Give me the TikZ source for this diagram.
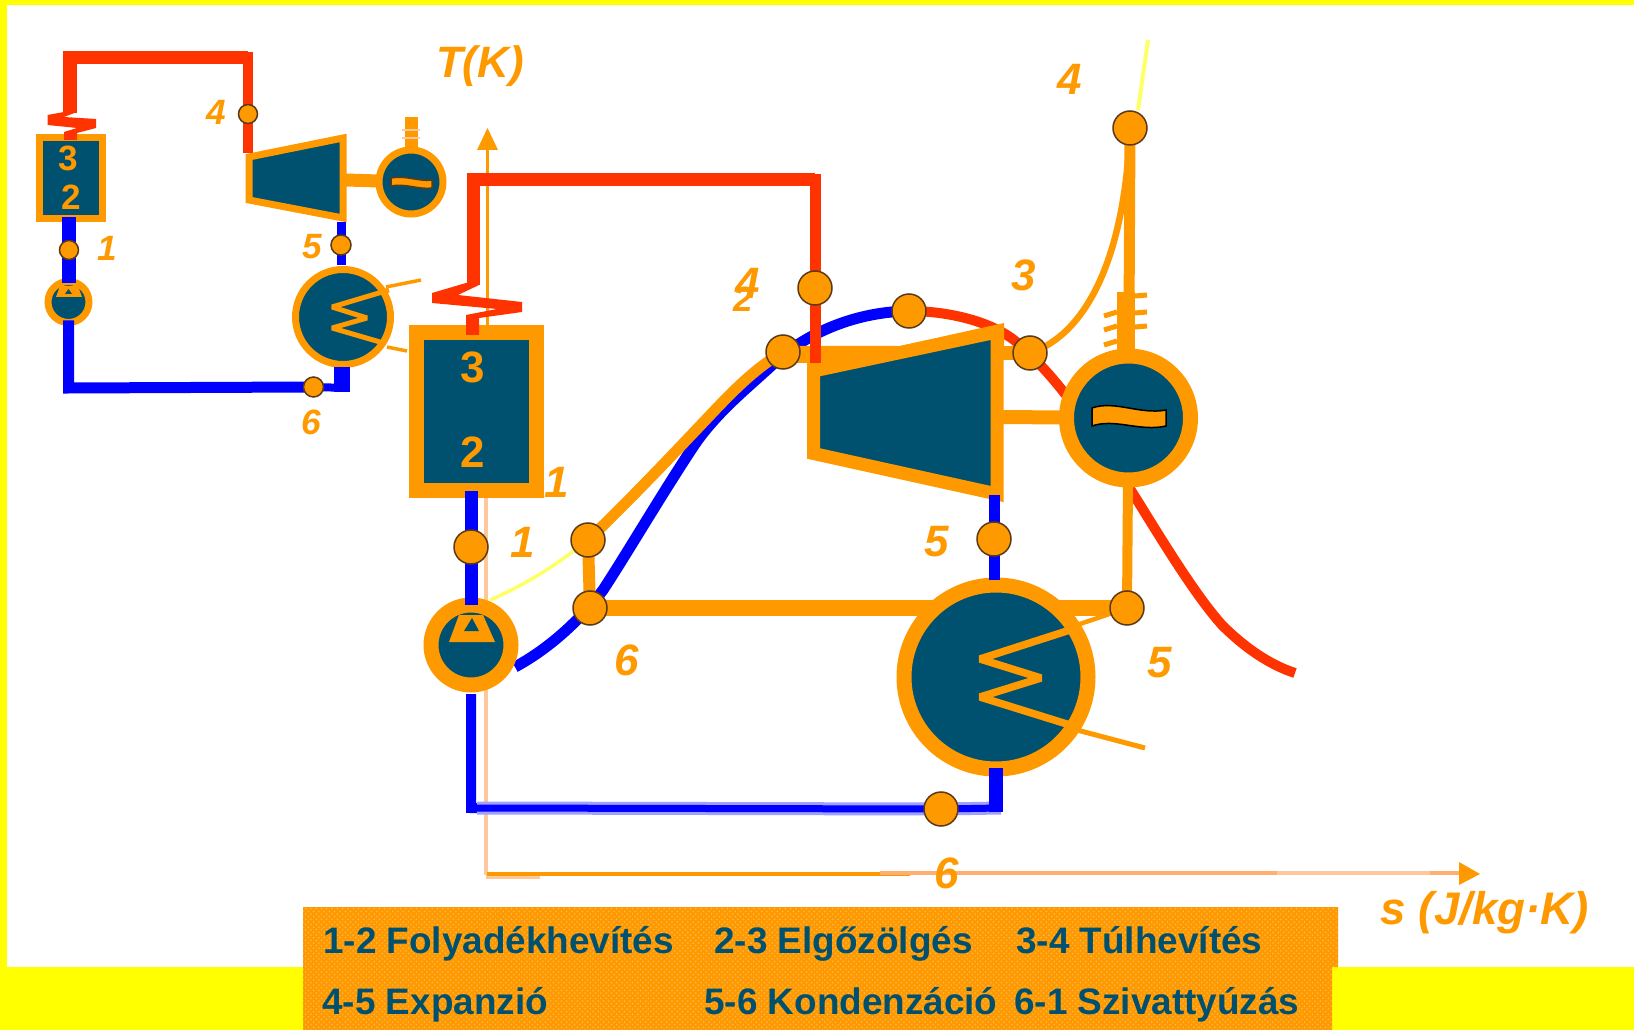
\documentclass[tikz,border=0pt]{standalone}
\usepackage{fontspec}
\setmainfont{Liberation Sans}
\usetikzlibrary{arrows.meta,patterns}
\definecolor{org}{HTML}{FF9900}
\definecolor{teal0}{HTML}{00506F}
\definecolor{hot}{HTML}{FF3300}
\definecolor{cold}{HTML}{0000FF}
\definecolor{paleblue}{HTML}{A0A0FF}
\definecolor{paleorg}{HTML}{FFC89A}
\definecolor{midorg}{HTML}{FFB070}
\definecolor{lemon}{HTML}{FFFF66}
\definecolor{yel}{HTML}{FFFF00}
\definecolor{boxdot}{HTML}{FFB84D}
\definecolor{rim}{HTML}{5A3A1A}
\pgfdeclarelayer{back}
\pgfdeclarelayer{pipes}
\pgfdeclarelayer{front}
\pgfsetlayers{back,main,pipes,front}
\tikzset{
  pw/.style={line width=#1*0.02cm},
  unit/.style={draw=org,fill=teal0,inner sep=0pt,outer sep=0pt},
  circ/.style={unit,circle,minimum size=#1*0.02cm},
  dot/.style={circle,draw=rim,fill=org,inner sep=0pt,outer sep=0pt,minimum size=#1*0.02cm,pw=1.5},
  num/.style={font=\fontsize{#1}{#1}\selectfont\bfseries\itshape,text=org,inner sep=0pt},
  tag/.style={font=\fontsize{#1}{#1}\selectfont\bfseries,text=org,inner sep=0pt},
  legend/.style={font=\fontsize{21}{21}\selectfont\bfseries,text=teal0,inner sep=0pt,anchor=base west},
  hotp/.style={draw=hot,line join=miter},
  coldp/.style={draw=cold,line join=miter},
  boxfill/.style={fill=org,postaction={pattern=crosshatch dots,pattern color=boxdot}},
}
\begin{document}
\begin{tikzpicture}[x=0.02cm,y=-0.02cm]
\useasboundingbox (0,0) rectangle (1634,1030);
% ---- page
\begin{pgfonlayer}{back}
\fill[white] (0,0) rectangle (1634,1030);
\fill[yel] (0,0) rectangle (1634,5.5);
\fill[yel] (0,0) rectangle (7,1030);
\fill[yel] (0,967) rectangle (1634,1030);
\end{pgfonlayer}
% ---- equipment nodes, large system
\node[unit,pw=15,minimum width=120*0.02cm,minimum height=157.5*0.02cm] (boiler) at (476,411.7) {};
\node[circ=80,pw=15] (pump) at (471,645) {};
\node[circ=124,pw=15] (gen) at (1128.5,418) {};
\node[circ=184,pw=15] (cond) at (996,677) {};
% ---- equipment nodes, small system
\node[unit,pw=7,minimum width=63*0.02cm,minimum height=81.5*0.02cm] (sboiler) at (71,178.2) {};
\node[circ=41,pw=7] (spump) at (68.5,302) {};
\node[circ=64,pw=7] (sgen) at (411,182) {};
\node[circ=95,pw=7] (scond) at (343,317) {};
% ---- state points
\begin{pgfonlayer}{front}
\node[dot=34] (p1) at (471,547) {};
\node[dot=34] (p1b) at (588,540) {};
\node[dot=34] (p6) at (590,608) {};
\node[dot=34] (p2) at (783,352) {};
\node[dot=34] (p4) at (815,288) {};
\node[dot=34] (ptop) at (909,311) {};
\node[dot=34] (p3) at (1030,353) {};
\node[dot=34] (p4b) at (1130,128) {};
\node[dot=34] (p5) at (994,539) {};
\node[dot=34] (p5b) at (1127,608) {};
\node[dot=34] (p6b) at (941,809) {};
\node[dot=19] (s1) at (69,250) {};
\node[dot=19] (s4) at (248,114) {};
\node[dot=20] (s5) at (341,245) {};
\node[dot=20] (s6) at (313.5,387) {};
\end{pgfonlayer}
\coordinate (axtop) at (487.5,128);
\coordinate (axend) at (1480,874);
\coordinate (turbin) at (815,363);
\coordinate (sturbin) at (248,153);
% ---- axes and T-s curves behind everything
\begin{pgfonlayer}{back}
\draw[org,pw=3] (487.5,150) -- (487.5,335);
\fill[org] (axtop) -- (498,150) -- (477,150) -- cycle;
\draw[paleorg,pw=4] (486,490) -- (486,875);
\draw[paleorg,pw=4] (486,877) -- (540,877);
\draw[org,pw=4] (487,874) -- (910,874);
\draw[midorg,pw=4] (880,873) -- (1277,873);
\draw[paleorg,pw=4] (1277,873) -- (1430,873);
\draw[midorg,pw=4] (1430,873) -- (1462,873);
\fill[org] (axend) -- (1459,862) -- (1459,885) -- cycle;
\draw[lemon,pw=3.5] (490,600) .. controls (520,587) and (550,570) .. (p1b.center);
\draw[lemon,pw=4] (1138,110) -- (1148,40);
\draw[cold,pw=11] (515,667) .. controls (550,648) and (580,620) .. (603,590) .. controls (626,555) and (660,497) .. (693,447) .. controls (715,414) and (745,390) .. (770,367) .. controls (800,337) and (850,312) .. (ptop.center);
\draw[hot,pw=10] (ptop.center) .. controls (940,311) and (985,318) .. (1014,340) .. controls (1035,358) and (1050,375) .. (1062,390) .. controls (1090,425) and (1115,465) .. (1137,500) .. controls (1160,537) and (1195,595) .. (1222,625) .. controls (1245,648) and (1270,665) .. (1295,673);
\draw[org,pw=11] (p1b.center) .. controls (630,500) and (680,447) .. (715,410) .. controls (735,389) and (757,367) .. (p2.center);
\draw[org,pw=12] (p1b.center) -- (p6.center);
\draw[org,pw=16] (p6.center) -- (p5b.center);
\draw[org,pw=10] (p5b.center) -- (gen.center);
\draw[org,pw=11] (p4b.center) -- (gen.center);
\draw[org,pw=6.5] (p3.center) .. controls (1085,335) and (1125,260) .. (p4b.center);
\draw[org,pw=14] (1000,353) -- (p3.center);
\draw[org,pw=14] (1000,417) -- (gen.center);
% generator stem ticks
\fill[org] (1117,292) rectangle (1135,350);
\draw[org,pw=5] (1135,296) -- (1147,295) (1135,313) -- (1147,312) (1135,327) -- (1147,326);
\draw[org,pw=5] (1104,316) -- (1117,312) (1104,330) -- (1117,326) (1104,345) -- (1117,341);
% condenser water connection, small and large
\draw[org,pw=4.5] (1077,625) -- (p5b.center);
\draw[org,pw=5] (1077,730) -- (1145,748);
\draw[org,pw=3.5] (386,287) -- (421,280);
\draw[org,pw=3.5] (387,347) -- (407,351);
% small generator stem
\draw[org,pw=13] (411,117) -- (sgen.center);
\draw[org,pw=13] (346,180) -- (sgen.center);
\draw[paleorg,pw=2] (402,130) -- (420,130) (402,138) -- (420,138);
\end{pgfonlayer}
% ---- turbines
\fill[org] (795,346) -- (900,346) -- (1004,323) -- (1004,360) -- (820,380) -- (807,380) -- (807,363) -- (795,363) -- cycle;
\draw[unit,pw=13,line join=miter] (813.5,371) -- (997,332) -- (997,494) -- (813.5,453.5) -- cycle;
\draw[unit,pw=7,line join=miter] (249,157) -- (343,138) -- (343,218) -- (249,200) -- cycle;
% ---- heater coils
\draw[org,pw=7.5,line join=bevel] (1070,630) -- (980,659) -- (1041,678) -- (980,697) -- (1070,725);
\draw[org,pw=5,line join=bevel] (389,290) -- (332,307) -- (367,318) -- (332,328) -- (380,342);
% ---- pump triangles
\fill[org] (459,615) -- (483,615) -- (495,642) -- (449,642) -- cycle;
\fill[teal0] (472,618) -- (464,631) -- (479,631) -- cycle;
\fill[org] (60,286) -- (78,286) -- (82,297) -- (56,297) -- cycle;
\fill[teal0] (68.5,289) -- (65,294) -- (72,294) -- cycle;
% ---- generator tildes
\draw[black,fill=org,pw=1.5] (1092,408) .. controls (1115,400) and (1140,415) .. (1166,410) -- (1166,426) .. controls (1140,432) and (1115,418) .. (1092,426) -- cycle;
\draw[rim,fill=org,pw=1.5] (391,178) .. controls (405,175) and (420,182) .. (432,180) -- (432,188) .. controls (420,190) and (405,183) .. (391,186) -- cycle;
% ---- working-fluid pipes
\begin{pgfonlayer}{pipes}
\draw[hotp,pw=13] (473,285) -- (473,180) -- (815,180);
\draw[hot,pw=11] (815,174) -- (p4.center) -- (turbin);
\fill[hot] (466,283) -- (432,293) -- (432,303) -- (497,309) -- (466,315) -- (466,335) -- (479,335) -- (479,318) -- (522,312) -- (522,302) -- (458,295) -- (479,285) -- cycle;
\draw[coldp,pw=13] (p1.center |- 0,491) -- (p1.center) -- (p1.center |- 0,605);
\draw[coldp,pw=10] (p1.center |- 0,694) -- (p1.center |- 0,808) -- (p6b.center);
\draw[paleblue,pw=13] (477,808) -- (p6b.center) -- (1001,808);
\draw[cold,pw=7] (471,808) -- (p6b.center) -- (1001,808);
\draw[cold,pw=14] (996,768) -- (996,812);
\draw[coldp,pw=11] (p5.center |- 0,495) -- (p5.center) -- (p5.center |- 0,580);
\draw[hot,pw=14] (70,113) -- (70,52);
\draw[hot,pw=13] (63,58) -- (248,58);
\draw[hot,pw=10] (248,52) -- (s4.center) -- (sturbin);
\fill[hot] (64,112) -- (47.5,115) -- (47.5,125) -- (77,128) -- (64,132) -- (64,140) -- (77,140) -- (77,133) -- (96,128) -- (96,119) -- (64,117) -- (77,112) -- cycle;
\draw[coldp,pw=14] (s1.center |- 0,217) -- (s1.center) -- (s1.center |- 0,283);
\draw[coldp,pw=11] (spump.south) ++(0,-2) -- (68.5,388) -- (s6.center);
\draw[cold,pw=8] (68.5,388) -- (s6.center) -- (348,388);
\draw[cold,pw=16] (342,367) -- (342,392);
\draw[coldp,pw=9] (s5.center |- 0,222) -- (s5.center) -- (s5.center |- 0,265);
\end{pgfonlayer}
% ---- labels
\node[tag=25] (b3) at (473,367) {3};
\node[tag=25] (b2) at (473,452) {2};
\node[tag=20] (sb3) at (68,158) {3};
\node[tag=20] (sb2) at (71,197) {2};
\node[num=25] (tk) at (480,66) {T(K)};
\node[num=26] (sj) at (1485,913) {s (J/kg·K)};
\node[num=25] (a1) at (557,482) {1};
\node[num=25] (a1b) at (523,542) {1};
\node[num=25] (a6) at (627,660) {6};
\node[num=20] (a2) at (743,299) {2};
\node[num=25] (a4) at (748,283) {4};
\node[num=25] (a4b) at (1070,79) {4};
\node[num=25] (a3) at (1024,275) {3};
\node[num=25] (a5) at (937,542) {5};
\node[num=25] (a5b) at (1160,663) {5};
\node[num=25] (a6b) at (947,873) {6};
\node[num=20] (c4) at (216,112) {4};
\node[num=20] (c1) at (107,248) {1};
\node[num=20] (c5) at (312,247) {5};
\node[num=20] (c6) at (311,422) {6};
% ---- legend
\begin{pgfonlayer}{front}
\path[boxfill] (303,907) -- (1338,907) -- (1338,967) -- (1332,967) -- (1332,1030) -- (303,1030) -- cycle;
\node[legend] (l12) at (323,953) {1-2 Folyadékhevítés};
\node[legend] (l23) at (714,953) {2-3 Elgőzölgés};
\node[legend] (l34) at (1016,953) {3-4 Túlhevítés};
\node[legend] (l45) at (322,1014) {4-5 Expanzió};
\node[legend] (l56) at (704,1014) {5-6 Kondenzáció};
\node[legend] (l61) at (1014,1014) {6-1 Szivattyúzás};
\end{pgfonlayer}
\end{tikzpicture}
\end{document}
